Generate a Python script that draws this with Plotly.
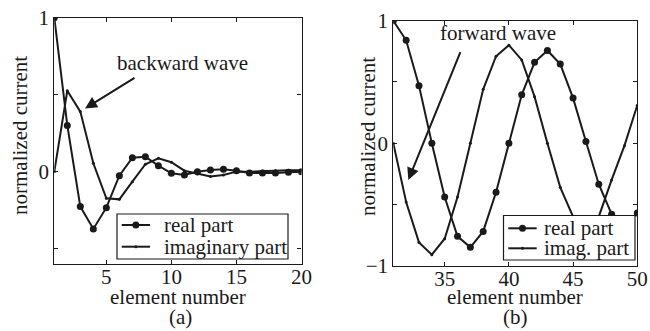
import plotly.graph_objects as go

# Panel (a): backward wave
elem_a = list(range(1, 21))
real_a = [1.0, 0.30, -0.227, -0.372, -0.234, -0.026, 0.091, 0.097, 0.039, -0.011,
          -0.022, 0.0, 0.011, 0.015, 0.006, -0.009, -0.009, -0.009, -0.004, 0.0]
imag_a = [0.0, 0.526, 0.39, 0.054, -0.173, -0.18, -0.065, 0.048, 0.087, 0.061,
          0.006, -0.015, -0.032, -0.022, 0.0, 0.0, 0.004, 0.006, 0.009, 0.009]

# Panel (b): forward wave
elem_b = list(range(31, 51))
real_b = [1.0, 0.84, 0.47, 0.0, -0.44, -0.76, -0.85, -0.72, -0.40, 0.0,
          0.395, 0.66, 0.757, 0.646, 0.368, 0.014, -0.335, -0.58, -0.68, -0.57]
imag_b = [0.0, -0.48, -0.81, -0.91, -0.78, -0.44, 0.0, 0.44, 0.71, 0.80,
          0.68, 0.38, 0.0, -0.36, -0.60, -0.74, -0.60, -0.30, -0.02, 0.31]

ticks_a_y = [-0.5, 0, 0.5, 1]
ticktext_a_y = ["", "0", "", "1"]
ticks_b_y = [-1, -0.5, 0, 0.5, 1]
ticktext_b_y = ["\u22121", "", "0", "", "1"]
ticks_a_x = [5, 10, 15, 20]
ticks_b_x = [35, 40, 45, 50]

legend_a = ["real part", "imaginary part"]
legend_b = ["real part", "imag. part"]

FONT = "Liberation Serif"
INK = "#1a1a1a"
W, H = 650, 331
FS = 21

fig = go.Figure()

line = dict(color=INK, width=2)
fig.add_trace(go.Scatter(x=elem_a, y=real_a, mode="lines+markers", name=legend_a[0],
                         line=line, marker=dict(size=7, color=INK), xaxis="x", yaxis="y"))
fig.add_trace(go.Scatter(x=elem_a, y=imag_a, mode="lines+markers", name=legend_a[1],
                         line=line, marker=dict(size=3, color=INK), xaxis="x", yaxis="y"))
fig.add_trace(go.Scatter(x=elem_b, y=real_b, mode="lines+markers", name=legend_b[0],
                         line=line, marker=dict(size=7, color=INK), xaxis="x2", yaxis="y2"))
fig.add_trace(go.Scatter(x=elem_b, y=imag_b, mode="lines+markers", name=legend_b[1],
                         line=line, marker=dict(size=3, color=INK), xaxis="x2", yaxis="y2"))


def px_x(p):
    return p / W


def px_y(p):
    return 1 - p / H


axis_common = dict(showline=True, linecolor=INK, linewidth=1.2, mirror="allticks",
                   ticks="inside", ticklen=4, tickcolor=INK, tickwidth=1, showgrid=False,
                   zeroline=False, automargin=False,
                   tickfont=dict(family=FONT, size=FS, color=INK))

fig.update_layout(
    template="none",
    width=W, height=H, margin=dict(l=0, r=0, t=0, b=0, pad=0), autosize=False,
    paper_bgcolor="white", plot_bgcolor="white", showlegend=False,
    xaxis=dict(domain=[px_x(54.3), px_x(301.5)], range=[1, 20], tickvals=ticks_a_x,
               anchor="y", ticklabelstandoff=-6, **axis_common),
    yaxis=dict(domain=[px_y(264), px_y(17.7)], range=[-0.6, 1], tickvals=ticks_a_y,
               ticktext=ticktext_a_y, anchor="x", **axis_common),
    xaxis2=dict(domain=[px_x(393.3), px_x(637.3)], range=[31, 50], tickvals=ticks_b_x,
                anchor="y2", ticklabelstandoff=-6, **axis_common),
    yaxis2=dict(domain=[px_y(265.7), px_y(20.7)], range=[-1, 1], tickvals=ticks_b_y,
                ticktext=ticktext_b_y, anchor="x2", **axis_common),
)

tfont = dict(family=FONT, size=FS, color=INK)


def label(text, x, y, angle=0):
    return dict(text=text, x=px_x(x), y=px_y(y), xref="paper", yref="paper",
                xanchor="center", yanchor="middle", showarrow=False, font=tfont,
                textangle=angle)


annots = [
    label("element number", 178, 297),
    label("element number", 515, 297),
    label("normalized current", 20, 136, -90),
    label("normalized current", 368, 137, -90),
    label("(a)", 180, 317),
    label("(b)", 515, 317),
    label("backward wave", 182, 63),
    label("forward wave", 498, 33),
    # arrows
    dict(x=3.36, y=0.41, ax=7.28, ay=0.615, xref="x", yref="y", axref="x", ayref="y",
         text="", showarrow=True, arrowhead=2, arrowsize=1.2, arrowwidth=2, arrowcolor=INK),
    dict(x=32.17, y=-0.30, ax=36.27, ay=0.756, xref="x2", yref="y2", axref="x2", ayref="y2",
         text="", showarrow=True, arrowhead=2, arrowsize=1.2, arrowwidth=2, arrowcolor=INK),
]

shapes = []


def add_legend(box, rows, line_x, text_x, labels, sizes):
    x0, y0, x1, y1 = box
    shapes.append(dict(type="rect", xref="paper", yref="paper",
                       x0=px_x(x0), x1=px_x(x1), y0=px_y(y1), y1=px_y(y0),
                       fillcolor="white", line=dict(color=INK, width=1.2), layer="above"))
    for ry, lab, ms in zip(rows, labels, sizes):
        shapes.append(dict(type="line", xref="paper", yref="paper",
                           x0=px_x(line_x[0]), x1=px_x(line_x[1]), y0=px_y(ry), y1=px_y(ry),
                           line=dict(color=INK, width=2), layer="above"))
        cx = (line_x[0] + line_x[1]) / 2
        r = ms / 2
        shapes.append(dict(type="circle", xref="paper", yref="paper",
                           x0=px_x(cx - r), x1=px_x(cx + r), y0=px_y(ry + r), y1=px_y(ry - r),
                           fillcolor=INK, line=dict(color=INK, width=0), layer="above"))
        annots.append(dict(text=lab, x=px_x(text_x), y=px_y(ry), xref="paper", yref="paper",
                           xanchor="left", yanchor="middle", showarrow=False, font=tfont))


add_legend((117, 214, 288, 259), [225, 246.7], (121.7, 150), 162, legend_a, [7, 3])
add_legend((503.5, 215.5, 635, 260), [228.3, 248.3], (508.3, 536.7), 541.5, legend_b, [7, 3])

fig.update_layout(annotations=annots, shapes=shapes)

fig.write_html("out.html")
